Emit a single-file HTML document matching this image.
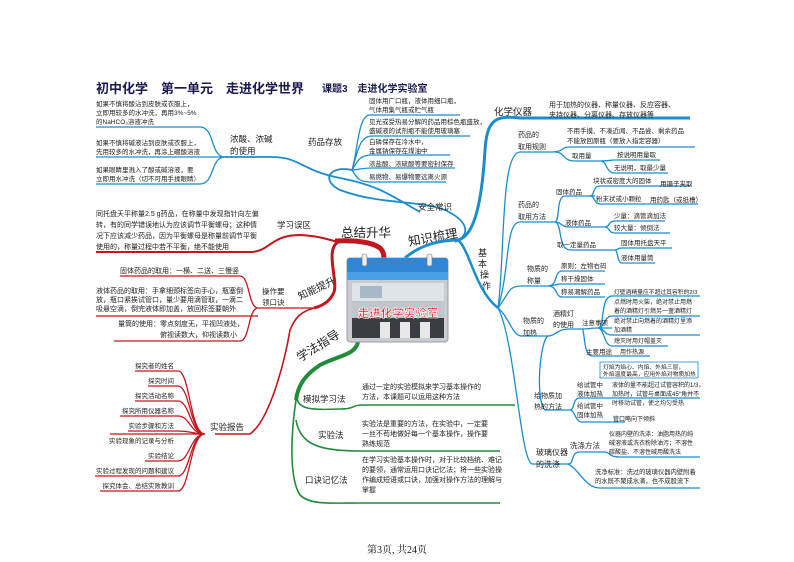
<!DOCTYPE html>
<html><head><meta charset="utf-8">
<style>
html,body{margin:0;padding:0;background:#fff;}
svg{display:block;}
text{font-family:"Liberation Sans","Noto Sans CJK SC",sans-serif;fill:#222;}
.s{font-size:6.5px;}
.m{font-size:8.5px;}
.b{stroke:#1b8dcb;fill:none;stroke-width:1.3;}
.r{stroke:#c3151d;fill:none;stroke-width:1.3;}
.g{stroke:#1f8b3b;fill:none;stroke-width:1.6;}
</style></head><body>
<svg width="794" height="562" viewBox="0 0 794 562" xmlns="http://www.w3.org/2000/svg">
<rect width="794" height="562" fill="#fff"/>
<!-- title -->
<text x="96" y="93" style="font-size:13px;font-weight:bold;fill:#1a1a50">初中化学　第一单元　走进化学世界</text>
<text x="322" y="92" style="font-size:10px;font-weight:bold;fill:#1a1a50">课题3　走进化学实验室</text>

<!-- left top acids -->
<text class="s" x="96" y="106">如果不慎将酸沾到皮肤或衣服上，</text>
<text class="s" x="96" y="115">立即用较多的水冲洗，再用3%~5%</text>
<text class="s" x="96" y="124">的NaHCO₃溶液冲洗</text>
<path class="b" d="M96 127 H200 C215 127 210 157 225 157"/>
<text class="s" x="96" y="145">如果不慎将碱液沾到皮肤或衣服上，</text>
<text class="s" x="96" y="154">先用较多的水冲洗，再涂上硼酸溶液</text>
<path class="b" d="M96 157 H225"/>
<text class="s" x="96" y="172">如果眼睛里溅入了酸或碱溶液，要</text>
<text class="s" x="96" y="181">立即用水冲洗（切不可用手揉眼睛）</text>
<path class="b" d="M96 184 H200 C215 184 210 157 225 157"/>
<text class="m" x="230" y="142">浓酸、浓碱</text>
<text class="m" x="230" y="154">的使用</text>
<path class="b" style="stroke-width:1.8" d="M225 157 H272 C300 157 300 170 340 178 C380 186 390 195 420 212"/>

<!-- storage -->
<text class="m" x="308" y="145">药品存放</text>
<path class="b" style="stroke-width:1.8" d="M352 170 C330 165 320 180 340 190 C380 205 420 200 445 210 C470 222 470 235 455 242"/>
<path class="b" d="M352 170 C358 150 358 115 370 115 H460 M352 170 C358 150 360 136 372 136 H470 M352 170 C358 160 360 155 372 155 H450 M352 170 C358 170 360 168 372 168 H455 M352 170 C358 180 360 182 372 182 H446"/>
<text class="s" x="369" y="103">固体用广口瓶，液体用细口瓶，</text>
<text class="s" x="369" y="112">气体用集气瓶或贮气瓶</text>
<text class="s" x="369" y="124">见光或受热易分解的药品用棕色瓶盛放，</text>
<text class="s" x="369" y="133">盛碱液的试剂瓶不能使用玻璃塞</text>
<text class="s" x="369" y="144">白磷保存在冷水中，</text>
<text class="s" x="369" y="153">金属钠保存在煤油中</text>
<text class="s" x="369" y="166">浓盐酸、浓硫酸等要密封保存</text>
<text class="s" x="369" y="179">易燃物、易爆物要远离火源</text>
<text class="m" x="418" y="210">安全常识</text>

<!-- centre labels -->
<text x="409" y="246" transform="rotate(-10 409 246)" style="font-size:12.5px">知识梳理</text>
<text x="341" y="237" style="font-size:12.5px">总结升华</text>
<text x="300" y="300" transform="rotate(-25 300 300)" style="font-size:10px">知能提升</text>
<text x="300" y="362" transform="rotate(-32 300 362)" style="font-size:12px">学法指导</text>

<!-- blue main right -->
<path class="b" style="stroke-width:3" d="M405 258 C420 245 440 240 458 240 C475 236 482 200 485 150 C487 120 495 115 520 118 H690"/>
<path class="b" style="stroke-width:2.5" d="M458 240 C470 250 475 290 498 308"/>
<text x="478" y="256" style="font-size:9px">基</text>
<text x="478" y="267" style="font-size:9px">本</text>
<text x="480" y="278" style="font-size:9px">操</text>
<text x="482" y="289" style="font-size:9px">作</text>
<text x="494" y="115" style="font-size:9.5px">化学仪器</text>
<text class="s" x="549" y="107" style="font-size:7px">用于加热的仪器、称量仪器、反应容器、</text>
<text class="s" x="549" y="117" style="font-size:7px">夹持仪器、分离仪器、存放仪器等</text>

<path class="b" d="M498 308 C505 260 500 152 520 152 H550 C565 152 560 147 570 147 H695"/>
<text class="s" x="518" y="137" style="font-size:7px">药品的</text>
<text class="s" x="518" y="149" style="font-size:7px">取用规则</text>
<text class="s" x="567" y="133">不用手摸、不凑近闻、不品尝、剩余药品</text>
<text class="s" x="567" y="143">不能放回原瓶（要放入指定容器）</text>
<path class="b" d="M555 152 C565 152 562 161 575 161 H600 C610 161 608 160 615 160 H660 M600 161 C608 161 605 173 615 173 H668"/>
<text class="s" x="572" y="158">取用量</text>
<text class="s" x="617" y="157">按说明用量取</text>
<text class="s" x="614" y="170">无说明，取最少量</text>

<path class="b" d="M498 308 C510 270 505 222 520 222 H555 C560 222 556 196 565 196 H595 M555 222 C562 222 560 227 570 227 H605 M555 222 C562 222 558 250 570 250 H615"/>
<text class="s" x="518" y="207" style="font-size:7px">药品的</text>
<text class="s" x="518" y="219" style="font-size:7px">取用方法</text>
<text class="s" x="556" y="194">固体药品</text>
<path class="b" d="M590 196 C595 196 592 186 600 186 H690 M590 196 C595 196 594 204 600 204 H698"/>
<text class="s" x="593" y="183">块状或密度大的固体</text>
<text class="s" x="660" y="186">用镊子夹取</text>
<text class="s" x="596" y="201">粉末状或小颗粒</text>
<text class="s" x="650" y="202">用药匙（或纸槽）</text>
<text class="s" x="565" y="225">液体药品</text>
<path class="b" d="M605 227 C610 227 608 221 615 221 H665 M605 227 C610 227 608 233 615 233 H670"/>
<text class="s" x="614" y="218">少量：滴管滴加法</text>
<text class="s" x="614" y="230">较大量：倾倒法</text>
<text class="s" x="557" y="247">取一定量药品</text>
<path class="b" d="M615 250 C618 250 617 248 622 248 H672 M615 250 C618 250 617 263 622 263 H655"/>
<text class="s" x="621" y="245">固体用托盘天平</text>
<text class="s" x="621" y="260">液体用量筒</text>

<path class="b" d="M498 308 C510 292 508 286 522 286 H548 C558 286 554 271 562 271 H605 M548 286 C555 286 555 284 560 284 H605 M548 286 C558 286 555 297 562 297 H605"/>
<text class="s" x="527" y="271" style="font-size:7px">物质的</text>
<text class="s" x="527" y="283" style="font-size:7px">称量</text>
<text class="s" x="561" y="268">原则：左物右码</text>
<text class="s" x="561" y="281">称干燥固体</text>
<text class="s" x="561" y="294">称易潮解药品</text>

<path class="b" d="M498 308 C510 318 512 336 522 336 H548 C556 336 556 329 570 329 H582 C590 329 590 328 598 328 H612 M598 328 C605 328 600 296 612 296 H700 M598 328 C605 328 604 316 612 316 H700 M598 328 C604 328 604 335 612 335 H700 M598 328 C604 328 604 346 612 346 H668 M582 329 C585 329 583 356 592 356 H650"/>
<text class="s" x="523" y="323" style="font-size:7px">物质的</text>
<text class="s" x="523" y="335" style="font-size:7px">加热</text>
<text class="s" x="553" y="316" style="font-size:7px">酒精灯</text>
<text class="s" x="553" y="327" style="font-size:7px">的使用</text>
<text class="s" x="614" y="294" style="font-size:5.8px">灯壁酒精量应不超过其容积的2/3</text>
<text class="s" x="614" y="304" style="font-size:6px">点燃时用火柴，绝对禁止用燃</text>
<text class="s" x="614" y="313" style="font-size:6px">着的酒精灯引燃另一盏酒精灯</text>
<text class="s" x="582" y="325">注意事项</text>
<text class="s" x="614" y="323" style="font-size:6px">绝对禁止向燃着的酒精灯里添</text>
<text class="s" x="614" y="332" style="font-size:6px">加酒精</text>
<text class="s" x="614" y="343" style="font-size:6px">熄灭时用灯帽盖灭</text>
<text class="s" x="586" y="354">主要用途</text>
<text class="s" x="620" y="354" style="font-size:6px">用作热源</text>
<rect x="600" y="362" width="98" height="16" fill="none" stroke="#1b8dcb" stroke-width="0.8"/>
<text class="s" x="603" y="369" style="font-size:5.8px">灯焰为焰心、内焰、外焰三层，</text>
<text class="s" x="603" y="376" style="font-size:5.8px">外焰温度最高，应用外焰对物质加热</text>
<path class="b" d="M548 336 C540 340 535 400 545 410 H570 C575 410 572 398 580 398 H700 M570 410 C575 410 575 422 582 422 H625"/>
<text class="s" x="534" y="398" style="font-size:7px">给物质加</text>
<text class="s" x="534" y="409" style="font-size:7px">热的方法</text>
<text class="s" x="577" y="387">给试管中</text>
<text class="s" x="577" y="396">液体加热</text>
<text class="s" x="577" y="408">给试管中</text>
<text class="s" x="577" y="417">固体加热</text>
<text class="s" x="612" y="387" style="font-size:6px">液体的量不能超过试管容积的1/3，</text>
<text class="s" x="612" y="396" style="font-size:6px">加热时，试管与桌面成45°角并不</text>
<text class="s" x="612" y="405" style="font-size:6px">时移动试管，使之均匀受热</text>
<text class="s" x="613" y="421" style="font-size:6px">管口略向下倾斜</text>

<path class="b" d="M498 308 C515 340 520 460 532 464 H568 C575 464 570 452 580 452 H605 C610 452 608 457 620 457 H700 M568 464 C580 470 585 488 600 488 H700"/>
<text class="s" x="536" y="455" style="font-size:8px">玻璃仪器</text>
<text class="s" x="536" y="467" style="font-size:8px">的洗涤</text>
<text class="s" x="570" y="448" style="font-size:7.5px">洗涤方法</text>
<text class="s" x="609" y="436" style="font-size:6px">仪器内壁的洗涤：油脂用热的纯</text>
<text class="s" x="609" y="445" style="font-size:6px">碱溶液或洗衣粉除油污；不溶性</text>
<text class="s" x="609" y="454" style="font-size:6px">碳酸盐、不溶性碱用酸洗法</text>
<text class="s" x="595" y="474" style="font-size:6.3px">洗净标准：洗过的玻璃仪器内壁附着</text>
<text class="s" x="595" y="483" style="font-size:6.3px">的水既不聚成水滴，也不成股流下</text>

<!-- red -->
<text class="s" x="96" y="216" style="font-size:7px">同托盘天平称量2.5 g药品，在称量中发现指针向左偏</text>
<text class="s" x="96" y="227" style="font-size:7px">转，有的同学错误地认为应该调节平衡螺母；这种情</text>
<text class="s" x="96" y="238" style="font-size:7px">况下应该减少药品，因为平衡螺母是称量前调节平衡</text>
<text class="s" x="96" y="249" style="font-size:7px">使用的，称量过程中若不平衡，绝不能使用</text>
<text class="m" x="277" y="228">学习误区</text>
<path class="r" style="stroke-width:2" d="M96 252 H250 C270 252 270 235 300 235 C320 236 330 240 338 242"/>
<path class="r" style="stroke-width:5" d="M335 241 C355 240 372 242 380 248 C384 252 384 256 384 262"/>
<path class="r" style="stroke-width:3" d="M338 242 C325 250 338 280 334 292 C330 302 322 306 314 308"/>
<path class="r" style="stroke-width:1.6" d="M314 308 C300 312 295 318 290 330 C285 360 270 420 250 434 H215"/>
<text class="s" x="120" y="273" style="font-size:7px">固体药品的取用：一横、二送、三慢竖</text>
<path class="r" d="M120 276 H240 C250 276 248 308 258 308 M96 316 H258 M114 341 H240 C250 341 248 308 258 308 H290 C300 308 306 308 314 308"/>
<text class="s" x="96" y="293" style="font-size:7px">液体药品的取用：手拿细颈标签向手心，瓶塞倒</text>
<text class="s" x="96" y="302" style="font-size:7px">放，瓶口紧挨试管口，量少要用滴管取，一滴二</text>
<text class="s" x="96" y="311" style="font-size:7px">吸悬空滴，倒完液体即加盖，放回标签要朝外</text>
<text class="s" x="118" y="326" style="font-size:7px">量筒的使用：零点刻度无，平视凹液处，</text>
<text class="s" x="160" y="337" style="font-size:7px">俯视读数大，仰视读数小</text>
<text class="s" x="262" y="294" style="font-size:7.5px">操作要</text>
<text class="s" x="262" y="305" style="font-size:7.5px">领口诀</text>
<text class="m" x="210" y="430">实验报告</text>
<path class="r" d="M205 434 C190 434 190 371 178 371 H135 M205 434 C190 434 190 386 178 386 H148 M205 434 C190 434 190 401 178 401 H135 M205 434 C190 434 190 416 178 416 H120 M205 434 C192 434 192 431 178 431 H128 M205 434 H110 M205 434 C190 434 190 461 178 461 H145 M205 434 C190 434 190 476 178 476 H95 M205 434 C190 434 190 491 178 491 H100"/>
<g class="s" style="font-size:6.5px" text-anchor="end">
<text x="174" y="368">探究者的姓名</text>
<text x="174" y="383">探究时间</text>
<text x="174" y="398">探究活动名称</text>
<text x="174" y="413">探究所用仪器名称</text>
<text x="174" y="428">实验步骤和方法</text>
<text x="174" y="443">实验现象的记录与分析</text>
<text x="174" y="458">实验结论</text>
<text x="174" y="473">实验过程发现的问题和建议</text>
<text x="174" y="488">探究体会、总结实败教训</text>
</g>

<!-- green -->
<path class="g" style="stroke-width:4" d="M358 342 C355 355 340 355 320 365 C305 375 298 385 296 400"/>
<path class="g" d="M296 400 C290 440 290 480 300 495 C310 505 330 503 360 503 H500"/>
<path class="g" d="M296 395 C298 410 310 410 340 409 C355 409 352 405 362 405 H515"/>
<path class="g" d="M296 420 C300 445 320 451 360 451 H500"/>
<text class="m" x="303" y="402">模拟学习法</text>
<text class="m" x="318" y="438">实验法</text>
<text class="m" x="305" y="483">口诀记忆法</text>
<text class="s" x="362" y="389" style="font-size:7px">通过一定的实验模拟来学习基本操作的</text>
<text class="s" x="362" y="399" style="font-size:7px">方法，本课题可以运用这种方法</text>
<text class="s" x="362" y="426" style="font-size:7px">实验法是重要的方法，在实验中，一定要</text>
<text class="s" x="362" y="436" style="font-size:7px">一丝不苟地做好每一个基本操作，操作要</text>
<text class="s" x="362" y="446" style="font-size:7px">熟练规范</text>
<text class="s" x="362" y="462" style="font-size:7px">在学习实验基本操作时，对于比较档统、难记</text>
<text class="s" x="362" y="472" style="font-size:7px">的要领，通常运用口诀记忆法；将一些实验操</text>
<text class="s" x="362" y="482" style="font-size:7px">作编成短语或口诀，加强对操作方法的理解与</text>
<text class="s" x="362" y="492" style="font-size:7px">掌握</text>

<!-- central box -->
<rect x="347" y="258" width="101" height="84" rx="3" fill="#c9ccd0" stroke="#9aa0a6"/>
<rect x="347" y="258" width="101" height="22" rx="3" fill="#2e86d4"/>
<rect x="347" y="272" width="101" height="8" fill="#4aa0e6"/>
<rect x="362" y="254" width="5" height="12" rx="2" fill="#eee" stroke="#777" stroke-width="0.6"/>
<rect x="427" y="254" width="5" height="12" rx="2" fill="#eee" stroke="#777" stroke-width="0.6"/>
<rect x="352" y="283" width="92" height="55" fill="#bfc6cc"/>
<rect x="352" y="283" width="92" height="18" fill="#dfe4e8"/>
<rect x="360" y="286" width="22" height="12" fill="#a9b8c6"/>
<rect x="352" y="318" width="92" height="20" fill="#3a3d42"/>
<rect x="380" y="322" width="10" height="16" fill="#e8e8e8"/>
<rect x="400" y="322" width="10" height="16" fill="#e8e8e8"/>
<rect x="420" y="322" width="10" height="16" fill="#e8e8e8"/>
<text x="398" y="317" text-anchor="middle" style="font-size:11.5px;font-weight:bold;fill:#e0141c;stroke:#fff;stroke-width:0.6">走进化学实验室</text>

<text x="397" y="553" text-anchor="middle" style="font-family:'Liberation Serif','Noto Serif CJK SC',serif;font-size:10px;fill:#111">第3页, 共24页</text>
</svg>
</body></html>
